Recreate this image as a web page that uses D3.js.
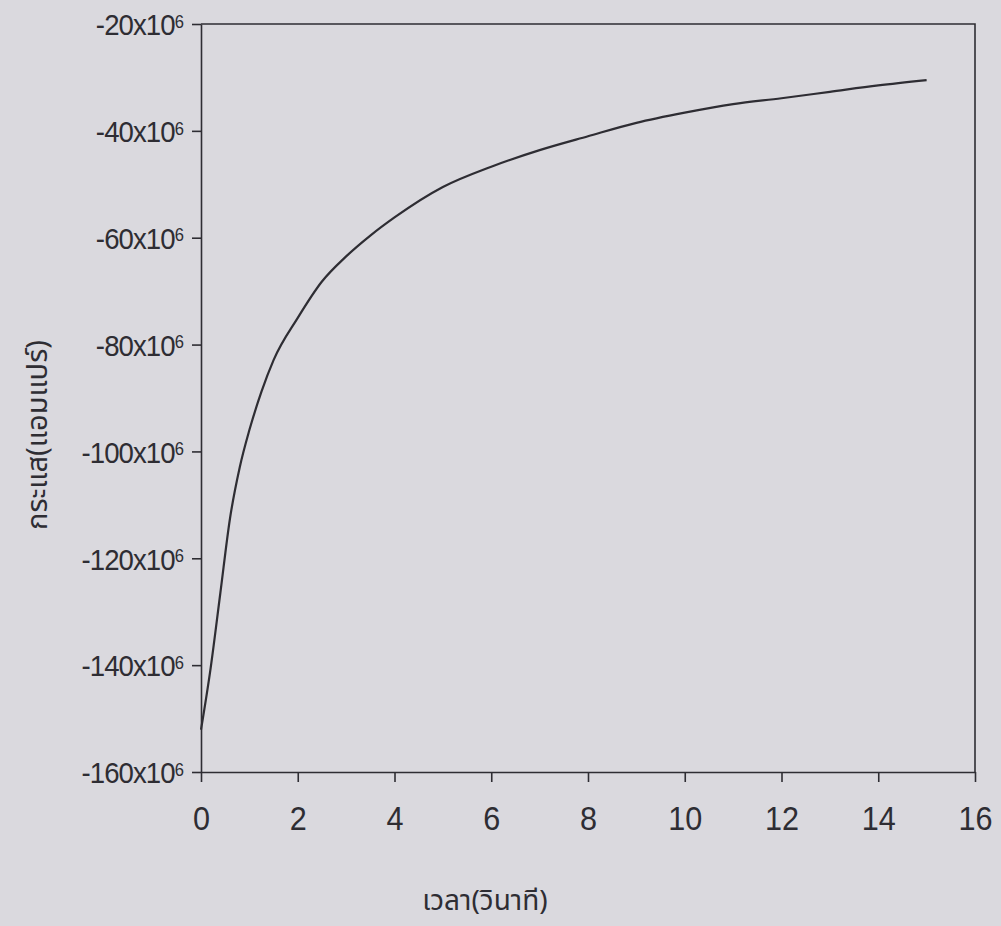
<!DOCTYPE html>
<html>
<head>
<meta charset="utf-8">
<script src="https://cdn.jsdelivr.net/npm/d3@7"></script>
<style>
  html, body { margin: 0; padding: 0; background: #dad9de; }
  svg { display: block; }
</style>
</head>
<body>
<svg id="chart" width="1001" height="926"></svg>
<script>
// Current decay: time (s) and current (A, in units of 1e-6)
const timeSec = [0, 0.2, 0.4, 0.6, 0.8, 1.0, 1.25, 1.5, 2.0, 2.5, 3.0, 3.5, 4.0, 5.0, 6.0, 7.0, 8.0, 9.0, 10.0, 11.0, 12.0, 13.0, 14.0, 15.0];
const currentMicro = [-152.1, -140.5, -126.5, -112.5, -103, -96, -88.8, -82.9, -75, -68.2, -63.5, -59.6, -56.2, -50.5, -46.7, -43.6, -41, -38.5, -36.6, -35.0, -33.9, -32.7, -31.5, -30.5];

const xTicks = [0, 2, 4, 6, 8, 10, 12, 14, 16];
const yTicks = [-160, -140, -120, -100, -80, -60, -40, -20];
const xTitle = "เวลา(วินาที)";
const yTitle = "กระแส(แอมแปร์)";

const ink = "#2e2d33";
const thaiFont = "'Noto Sans Thai', 'Noto Sans Thai Looped', 'Noto Sans', 'DejaVu Sans', sans-serif";
const numFont = "'Liberation Sans', Arial, sans-serif";

const margin = { left: 201, top: 24, right: 1001 - 975, bottom: 926 - 772 };
const W = 1001, H = 926;
const svg = d3.select("#chart");

const x = d3.scaleLinear().domain([0, 16]).range([margin.left, W - margin.right]);
const y = d3.scaleLinear().domain([-160, -20]).range([H - margin.bottom, margin.top]);

// Box frame (top and right edges)
svg.append("path")
  .attr("d", `M${x(0)},${y(-20)}H${x(16)}V${y(-160)}`)
  .attr("fill", "none").attr("stroke", ink).attr("stroke-width", 1.6);

// Bottom axis
const xScaleText = 0.9;
const gx = svg.append("g")
  .attr("transform", `translate(0,${y(-160)})`)
  .call(d3.axisBottom(x).tickValues(xTicks).tickSize(10).tickSizeOuter(0));
gx.select(".domain").attr("stroke", ink).attr("stroke-width", 1.6);
gx.selectAll(".tick line").attr("stroke", ink).attr("stroke-width", 1.6);
gx.selectAll(".tick text")
  .attr("fill", ink)
  .style("font-family", numFont)
  .style("font-size", "34px")
  .attr("transform", `scale(${xScaleText},1)`)
  .attr("y", 34);

// Left axis with "x10^6" labels
const yScaleText = 0.92;
const gy = svg.append("g")
  .attr("transform", `translate(${x(0)},0)`)
  .call(d3.axisLeft(y).tickValues(yTicks).tickSize(9).tickSizeOuter(0));
gy.select(".domain").attr("stroke", ink).attr("stroke-width", 1.6);
gy.selectAll(".tick line").attr("stroke", ink).attr("stroke-width", 1.6);
gy.selectAll(".tick text").each(function(d) {
  const t = d3.select(this);
  t.text(null)
    .attr("fill", ink)
    .attr("x", -18 / yScaleText)
    .attr("dy", "0.36em")
    .attr("transform", `scale(${yScaleText},1)`)
    .style("font-family", numFont)
    .style("font-size", "30px")
    .style("letter-spacing", "-1px")
    .attr("text-anchor", "end");
  t.append("tspan").text(d + "x10");
  t.append("tspan").text("6").attr("dy", "-0.42em").style("font-size", "18px");
});

// Curve
const line = d3.line()
  .x((d, i) => x(timeSec[i]))
  .y((d, i) => y(currentMicro[i]))
  .curve(d3.curveMonotoneX);
svg.append("path")
  .datum(currentMicro)
  .attr("d", line)
  .attr("fill", "none")
  .attr("stroke", ink)
  .attr("stroke-width", 2.2)
  .attr("stroke-linejoin", "round");

// Axis titles
svg.append("text")
  .attr("x", 485).attr("y", 910)
  .attr("text-anchor", "middle")
  .attr("fill", ink)
  .style("font-family", thaiFont)
  .style("font-size", "28px")
  .text(xTitle);

svg.append("text")
  .attr("transform", "translate(47,435) rotate(-90)")
  .attr("text-anchor", "middle")
  .attr("fill", ink)
  .style("font-family", thaiFont)
  .style("font-size", "29px")
  .text(yTitle);
</script>
</body>
</html>
